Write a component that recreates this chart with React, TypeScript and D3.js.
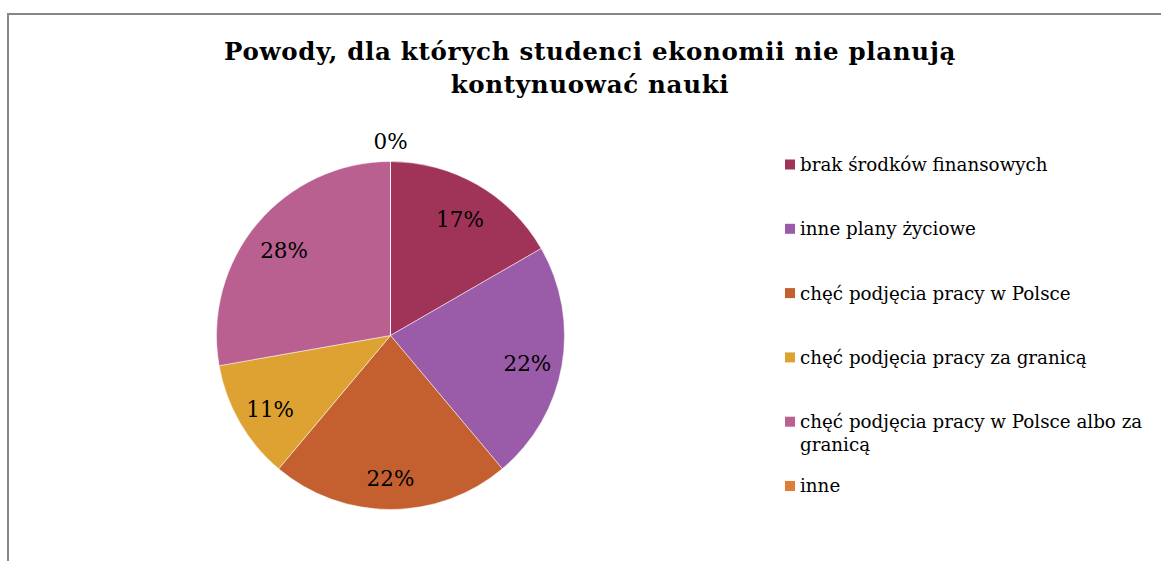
import React from "react";
import * as d3 from "d3";

const categories: string[] = [
  "brak środków finansowych",
  "inne plany życiowe",
  "chęć podjęcia pracy w Polsce",
  "chęć podjęcia pracy za granicą",
  "chęć podjęcia pracy w Polsce albo za granicą",
  "inne",
];
const legendLines: string[][] = [
  ["brak środków finansowych"],
  ["inne plany życiowe"],
  ["chęć podjęcia pracy w Polsce"],
  ["chęć podjęcia pracy za granicą"],
  ["chęć podjęcia pracy w Polsce albo za", "granicą"],
  ["inne"],
];
const values: number[] = [3, 4, 4, 2, 5, 0];
const colors: string[] = ["#A03358", "#9A5BA8", "#C45F30", "#DEA233", "#B96090", "#E07E38"];
const titleLines: string[] = ["Powody, dla których studenci ekonomii nie planują", "kontynuować nauki"];

const W = 1161;
const H = 561;
const FONT = "'DejaVu Serif', serif";

export default function App() {
  const cx = 390.5;
  const cy = 335.5;
  const r = 174;
  const total = d3.sum(values);
  const pie = d3.pie<number>().sort(null).value((d) => d)(values);
  const arc = d3.arc<d3.PieArcDatum<number>>().innerRadius(0).outerRadius(r);
  const fmt = (v: number) => `${Math.round((v / total) * 100)}%`;

  const legendY = d3.scaleLinear().domain([0, 1]).range([164.5, 228.8]);

  return (
    <svg
      width={W}
      height={H}
      style={{ position: "absolute", left: 0, top: 0, background: "#fff" }}
      fontFamily={FONT}
    >
      <rect x={0} y={0} width={W} height={H} fill="#fff" />
      <path d={`M8,${H} L8,14 L${W},14`} fill="none" stroke="#878787" strokeWidth={2} />
      {titleLines.map((t, i) => (
        <text
          key={i}
          x={590}
          y={60 + i * 32.5}
          textAnchor="middle"
          fontSize={24.5}
          fontWeight="bold"
          letterSpacing={0.7}
          fill="#000"
        >
          {t}
        </text>
      ))}
      <g transform={`translate(${cx},${cy})`}>
        {pie.map((p, i) => (
          <path key={i} d={arc(p) || ""} fill={colors[i]} stroke="#fff" strokeWidth={0.5} />
        ))}
        {pie.map((p, i) => {
          const mid = (p.startAngle + p.endAngle) / 2;
          const zero = p.value === 0;
          const rr = zero ? r + 20 : 139;
          const x = Math.sin(mid) * rr;
          const y = -Math.cos(mid) * rr + (zero ? 0 : 4);
          return (
            <text
              key={"l" + i}
              x={x}
              y={y}
              dy="0.35em"
              textAnchor="middle"
              fontSize={21.5}
              fill="#000"
            >
              {fmt(p.value)}
            </text>
          );
        })}
      </g>
      {legendLines.map((lines, i) => (
        <g key={i}>
          <rect x={785} y={legendY(i) - 5} width={10} height={10} fill={colors[i]} />
          <text y={legendY(i)} fontSize={18.3} fill="#000">
            {lines.map((ln, j) => (
              <tspan key={j} x={800} dy={j === 0 ? "0.35em" : 22.5}>
                {ln}
              </tspan>
            ))}
          </text>
        </g>
      ))}
    </svg>
  );
}
